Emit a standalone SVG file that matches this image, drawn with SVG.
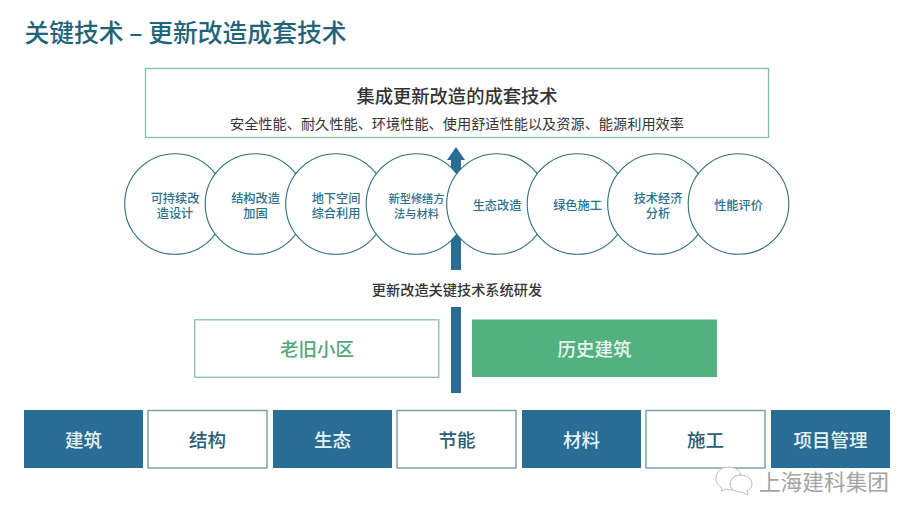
<svg xmlns="http://www.w3.org/2000/svg" width="919" height="521" viewBox="0 0 919 521">
<style>
text{font-family:"Noto Sans CJK SC","Liberation Sans",sans-serif;text-anchor:middle}
.c{fill:#fff;stroke:#2f6f7f;stroke-width:1.1}
.cl{fill:#2d6f8c;font-size:12.200px;font-weight:500}
.blue{fill:#2a6d94}
.wb{fill:#fff;stroke:#7ba5a3;stroke-width:1.5}
.bl{font-size:18.500px;font-weight:500}
.w{fill:#e4f3f5}
.d{fill:#2c5d75}
.bar{fill:#2a6d94}
</style>
<rect width="919" height="521" fill="#fff"/>
<text x="185.500" y="42" style="font-size:24.800px;font-weight:500;fill:#1f6478">关键技术 – 更新改造成套技术</text>
<g id="top-box">
<rect x="145.500" y="68.500" width="623" height="69" fill="#fff" stroke="#7dbfa9" stroke-width="1.300"/>
<text x="457" y="102.500" style="font-size:18.300px;font-weight:500;fill:#333">集成更新改造的成套技术</text>
<text x="457" y="129" style="font-size:14.200px;fill:#333">安全性能、耐久性能、环境性能、使用舒适性能以及资源、能源利用效率</text>
</g>
<g id="connectors">
<path class="bar" d="M451 270V160H447L456 147L465 160H461V270Z"/>
<rect class="bar" x="451" y="307" width="10" height="86"/>
</g>
<g id="c1"><circle class="c" cx="175" cy="204" r="50.300"/><text class="cl" x="175" y="202.500">可持续改<tspan x="175" dy="15">造设计</tspan></text></g>
<g id="c2"><circle class="c" cx="255.500" cy="204" r="50.300"/><text class="cl" x="255.500" y="202.500">结构改造<tspan x="255.500" dy="15">加固</tspan></text></g>
<g id="c3"><circle class="c" cx="336" cy="204" r="50.300"/><text class="cl" x="336" y="202.500">地下空间<tspan x="336" dy="15">综合利用</tspan></text></g>
<g id="c4"><circle class="c" cx="416.500" cy="204" r="50.300"/><text class="cl" style="font-size:11.200px" x="416.500" y="202.500">新型修缮方<tspan x="416.500" dy="15">法与材料</tspan></text></g>
<g id="c5"><circle class="c" cx="497" cy="204" r="50.300"/><text class="cl" x="497" y="209.500">生态改造</text></g>
<g id="c6"><circle class="c" cx="577.500" cy="204" r="50.300"/><text class="cl" x="577.500" y="209.500">绿色施工</text></g>
<g id="c7"><circle class="c" cx="658" cy="204" r="50.300"/><text class="cl" x="658" y="202.500">技术经济<tspan x="658" dy="15">分析</tspan></text></g>
<g id="c8"><circle class="c" cx="738.500" cy="204" r="50.300"/><text class="cl" x="738.500" y="209.500">性能评价</text></g>
<text x="457" y="294.500" style="font-size:14.200px;font-weight:500;fill:#333">更新改造关键技术系统研发</text>
<g id="old"><rect x="194.800" y="319.800" width="244" height="57.500" fill="#fff" stroke="#86bdaf" stroke-width="1.300"/><text x="317" y="355.500" style="font-size:18.500px;font-weight:500;fill:#52a77c">老旧小区</text></g>
<g id="hist"><rect x="472" y="319.500" width="245" height="57.500" fill="#53b07f"/><text x="594.500" y="355.500" style="font-size:18.500px;font-weight:500;fill:#e8f5ec">历史建筑</text></g>
<g id="b1"><rect class="blue" x="24" y="410" width="119" height="58"/><text class="bl w" x="83.500" y="446.500">建筑</text></g>
<g id="b2"><rect class="wb" x="148" y="410.500" width="119" height="57.500"/><text class="bl d" x="207.500" y="446.500">结构</text></g>
<g id="b3"><rect class="blue" x="273" y="410" width="119" height="58"/><text class="bl w" x="332.500" y="446.500">生态</text></g>
<g id="b4"><rect class="wb" x="397" y="410.500" width="119" height="57.500"/><text class="bl d" x="457" y="446.500">节能</text></g>
<g id="b5"><rect class="blue" x="522" y="410" width="119" height="58"/><text class="bl w" x="581.500" y="446.500">材料</text></g>
<g id="b6"><rect class="wb" x="646" y="410.500" width="119" height="57.500"/><text class="bl d" x="705.500" y="446.500">施工</text></g>
<g id="b7"><rect class="blue" x="771" y="410" width="119" height="58"/><text class="bl w" x="830.500" y="446.500">项目管理</text></g>
<g id="watermark">
<path d="M728 467C719 467 716 474 716 479C716 483 719 486 722 488L721 491L726 489L733 490C728 480 733 475 741 475C740 470 735 467 728 467Z" fill="#fff" stroke="#bdbdbd" stroke-width="1"/>
<path d="M741 475C735 475 730 479 730 484C730 489 735 492 741 492L748 495L747 491C750 489 752 487 752 484C752 479 747 475 741 475Z" fill="#fff" stroke="#bdbdbd" stroke-width="1"/>
<text x="824" y="490" style="font-size:21.700px;fill:#a3a3a3">上海建科集团</text>
</g>
</svg>
